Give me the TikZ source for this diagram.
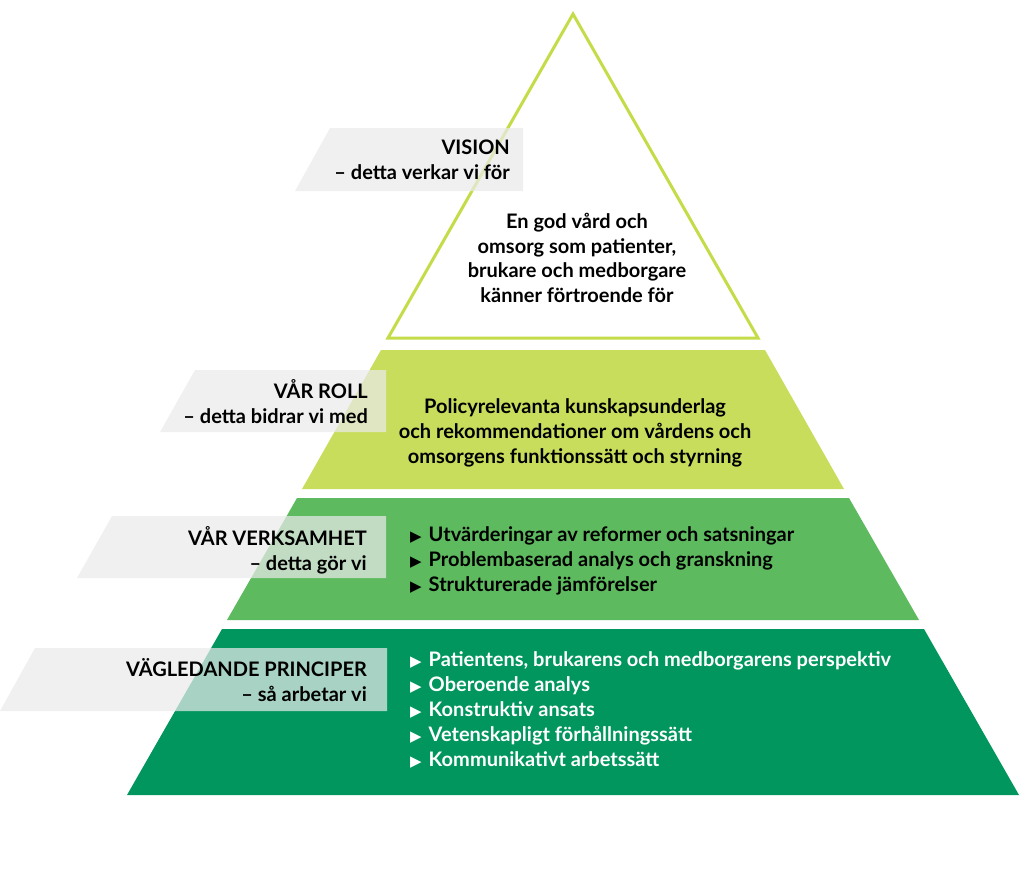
\documentclass[tikz,border=0pt]{standalone}
\usepackage{fontspec}
\setmainfont{Lato}
\newfontfamily\symfont{DejaVu Sans}
\usepackage{xcolor}
\definecolor{limeline}{RGB}{196,220,72}
\definecolor{layerA}{RGB}{200,221,92}
\definecolor{layerB}{RGB}{93,186,94}
\definecolor{layerC}{RGB}{0,150,94}
\definecolor{boxgray}{RGB}{234,234,234}
\newcommand{\bul}{\raisebox{0.5pt}{\symfont\fontsize{15}{15}\selectfont ▶}\hspace{7pt}}

\tikzset{
  labelbox/.style={fill=boxgray, fill opacity=0.72},
  labeltext/.style={anchor=east, align=right, inner sep=0pt,
    font=\bfseries\fontsize{20}{25}\selectfont},
  bodytext/.style={align=center, inner sep=0pt,
    font=\bfseries\fontsize{20}{24.7}\selectfont},
  listtext/.style={anchor=west, align=left, inner sep=0pt,
    font=\bfseries\fontsize{20}{25}\selectfont}
}

\begin{document}
\begin{tikzpicture}[x=1pt,y=-1pt]
  \useasboundingbox (0,0) rectangle (1024,873);
  % pyramid layers
  \fill[layerC] (222,629) -- (924,629) -- (1019,795) -- (127,795) -- cycle;
  \fill[layerB] (297,498) -- (849,498) -- (919,620) -- (227,620) -- cycle;
  \fill[layerA] (381,350) -- (765,350) -- (844,489) -- (302,489) -- cycle;
  \draw[limeline, line width=3pt, fill=white] (573,14) -- (758,338) -- (388,338) -- cycle;
  % label boxes
  \fill[labelbox] (330,128) -- (523,128) -- (523,191) -- (295,191) -- cycle;
  \fill[labelbox] (195,370) -- (386,370) -- (386,432) -- (160,432) -- cycle;
  \fill[labelbox] (112,516) -- (386,516) -- (386,578) -- (77,578) -- cycle;
  \fill[labelbox] (35,648) -- (387,648) -- (387,711) -- (0,711) -- cycle;
  % labels
  \node[labeltext] (vision) at (510,160) {VISION\\– detta verkar vi för};
  \node[labeltext] (roll) at (368,402) {VÅR ROLL\\– detta bidrar vi med};
  \node[labeltext] (verks) at (367,550) {VÅR VERKSAMHET\\– detta gör vi};
  \node[labeltext] (princ) at (367,680) {VÄGLEDANDE PRINCIPER\\– så arbetar vi};
  % contents
  \node[bodytext] (visiontxt) at (577,258)
    {En god vård och\\omsorg som patienter,\\brukare och medborgare\\känner förtroende för};
  \node[bodytext] (rolltxt) at (575,433)
    {Policyrelevanta kunskapsunderlag\\och rekommendationer om vårdens och\\omsorgens funktionssätt och styrning};
  \node[listtext] (verkstxt) at (410,561)
    {\bul Utvärderingar av reformer och satsningar\\
     \bul Problembaserad analys och granskning\\
     \bul Strukturerade jämförelser};
  \node[listtext, text=white] (princtxt) at (410,710)
    {\bul Patientens, brukarens och medborgarens perspektiv\\
     \bul Oberoende analys\\
     \bul Konstruktiv ansats\\
     \bul Vetenskapligt förhållningssätt\\
     \bul Kommunikativt arbetssätt};
\end{tikzpicture}
\end{document}
